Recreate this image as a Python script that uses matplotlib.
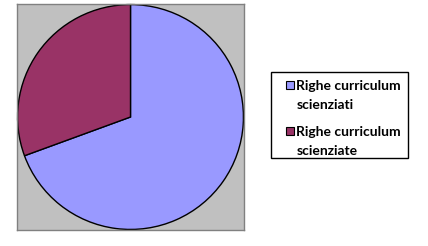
import matplotlib.pyplot as plt
from matplotlib.patches import Rectangle

labels = ["Righe curriculum\nscienziati", "Righe curriculum\nscienziate"]
values = [69.4, 30.6]
colors = ["#9999FF", "#993366"]

W, H = 428, 246
fig = plt.figure(figsize=(W / 100, H / 100), dpi=100)
ax = fig.add_axes([17/W, 16/H, 227/W, 226/H])

ax.pie(values, colors=colors, startangle=90, counterclock=False,
       wedgeprops=dict(edgecolor="black", linewidth=1), radius=1)
ax.set_xlim(-1.005, 1.005)
ax.set_ylim(-1.005, 1.005)
ax.set_aspect("auto")
ax.set_xticks([])
ax.set_yticks([])
ax.set_frame_on(True)
ax.set_facecolor("#C0C0C0")
ax.patch.set_visible(True)
for s in ax.spines.values():
    s.set_visible(True)
    s.set_color("#808080")
    s.set_linewidth(1)

# legend drawn by hand (pixel positions, y from top)
def fx(x):
    return x / W

def fy(y):
    return 1 - y / H

fig.add_artist(Rectangle((fx(271), fy(158)), (408 - 271) / W, (158 - 72) / H,
                         transform=fig.transFigure, facecolor="white",
                         edgecolor="black", linewidth=1))
for i, (lab, c) in enumerate(zip(labels, colors)):
    top = 81 + i * 46
    fig.add_artist(Rectangle((fx(285.5), fy(top + 8)), 8 / W, 8 / H,
                             transform=fig.transFigure, facecolor=c,
                             edgecolor="black", linewidth=0.8))
    for j, line in enumerate(lab.split("\n")):
        fig.text(fx(296.5), fy(90 + i * 46 + j * 19), line, ha="left", va="baseline",
                 family="Lato", weight="bold", fontsize=10)

fig.savefig("out.png", dpi=100)
